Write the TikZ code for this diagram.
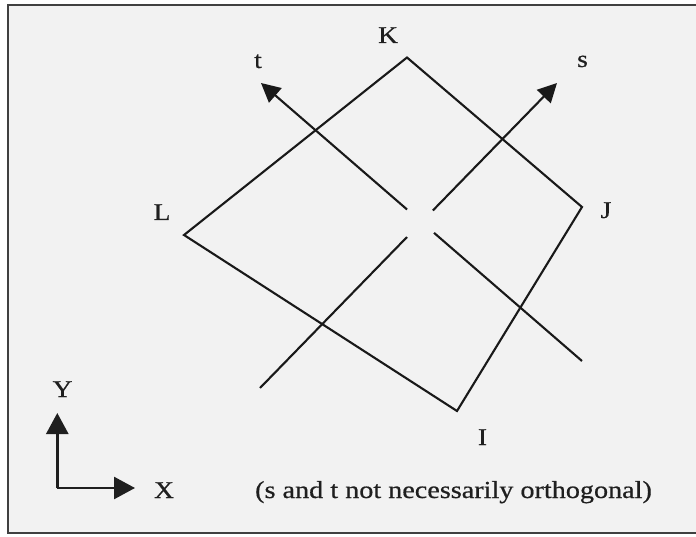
\documentclass[tikz,border=0pt]{standalone}
\usepackage{fontspec}
\setmainfont[FakeStretch=1.15,FakeBold=0.6]{Liberation Serif}
\usetikzlibrary{arrows.meta,calc}
\begin{document}
\begin{tikzpicture}[x=1pt,y=-1pt,
  edge/.style={line width=2.1pt,draw=black!90},
  vec/.style={edge,-{Triangle[length=19pt,width=19pt]}},
  axis/.style={line width=2.6pt,draw=black!88,-{Triangle[length=21pt,width=22pt]}},
  frame/.style={line width=2pt,draw=black!75},
  lbl/.style={anchor=base,inner sep=0pt,font=\fontsize{24}{28}\selectfont,text=black!88}]
\useasboundingbox (0,0) rectangle (696,537);
\fill[white] (0,0) rectangle (696,537);
\fill[black!5] (8,5) rectangle (696,533);
\draw[frame] (696,5) -- (8,5) -- (8,533) -- (696,533);

% parallelogram
\coordinate (K) at (407,57.5);
\coordinate (J) at (582,207);
\coordinate (I) at (457,411);
\coordinate (L) at (184,235);
\draw[edge] (L) -- (K) -- (J) -- (I) -- cycle;

% t and s vectors (broken where they cross)
\coordinate (tTail) at (582,361);
\coordinate (tTip) at (261,83);
\coordinate (sTail) at (260,388);
\coordinate (sTip) at (557,83);
\draw[edge] (tTail) -- ($(tTail)!0.461!(tTip)$);
\draw[vec] ($(tTail)!0.545!(tTip)$) -- (tTip);
\draw[edge] (sTail) -- ($(sTail)!0.495!(sTip)$);
\draw[vec] ($(sTail)!0.582!(sTip)$) -- (sTip);

% axes
\coordinate (O) at (57.3,488);
\coordinate (Ytip) at (57.3,413);
\coordinate (Xtip) at (135,488);
\draw[axis] (O) -- (Ytip);
\draw[axis] (O) -- (Xtip);

% labels
\node[lbl] (Klbl) at (388,43) {K};
\node[lbl] (tlbl) at (258,68) {t};
\node[lbl] (slbl) at (582.5,67) {s};
\node[lbl] (Llbl) at (162,220) {L};
\node[lbl] (Jlbl) at (606,218) {J};
\node[lbl] (Ilbl) at (482.5,445) {I};
\node[lbl] (Ylbl) at (62.5,397) {Y};
\node[lbl] (Xlbl) at (164,498) {X};
\node[lbl,anchor=base west,font=\fontsize{24.5}{28}\selectfont] (note) at (255,498) {(s and t not necessarily orthogonal)};
\end{tikzpicture}
\end{document}
